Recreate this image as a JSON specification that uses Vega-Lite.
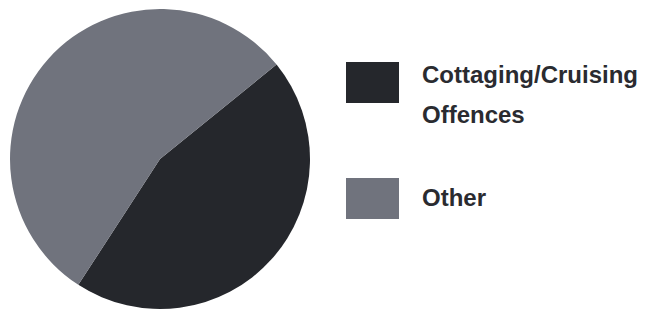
{
  "$schema": "https://vega.github.io/schema/vega-lite/v6.json",
  "width": 320,
  "height": 314,
  "autosize": {"type": "none"},
  "padding": {"left": 0, "top": 2, "right": 331, "bottom": 0},
  "background": "white",
  "data": {"values": [
    {"category": "Cottaging/Cruising Offences", "value": 45},
    {"category": "Other", "value": 55}
  ]},
  "mark": {"type": "arc", "radius": 150, "strokeWidth": 0},
  "encoding": {
    "theta": {"field": "value", "type": "quantitative", "stack": true, "scale": {"range": [0.89, 7.173]}},
    "order": {"field": "category", "type": "nominal"},
    "color": {
      "field": "category",
      "type": "nominal",
      "scale": {"domain": ["Cottaging/Cruising Offences", "Other"], "range": ["#25272c", "#70737d"]},
      "legend": {
        "title": null,
        "orient": "none",
        "legendX": 346,
        "legendY": 54,
        "padding": 0,
        "symbolType": "M-1,-0.77H1V0.77H-1Z",
        "symbolSize": 2809,
        "symbolStrokeWidth": 0,
        "labelOffset": 23,
        "labelFont": "Liberation Sans",
        "labelFontWeight": "bold",
        "labelFontSize": 24,
        "labelColor": "#2a2b30",
        "labelLimit": 400,
        "rowPadding": 44,
        "labelExpr": "datum.label == 'Other' ? 'Other' : ['Cottaging/Cruising', 'Offences']",
        "encode": {
          "labels": {"update": {"lineHeight": {"value": 40}, "dy": {"signal": "datum.label == 'Other' ? 0 : -7"}}}
        }
      }
    }
  },
  "config": {"view": {"stroke": null}}
}
